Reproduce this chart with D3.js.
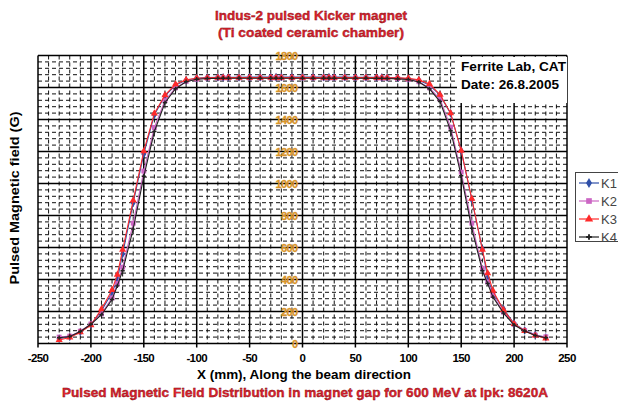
<!DOCTYPE html>
<html>
<head>
<meta charset="utf-8">
<script src="https://cdn.jsdelivr.net/npm/d3@7"></script>
<style>
  body { margin: 0; background: #fff; }
  svg { display: block; font-family: "Liberation Sans", Arial, sans-serif; }
</style>
</head>
<body>
<div id="chart"></div>
<script>
(function () {
  'use strict';

  // x positions (mm) along the beam direction
  var xMm = [-230, -220, -210, -200, -190, -180, -175, -170, -160, -150, -140, -130, -120, -110, -100,
    -90, -80, -75, -70, -60, -50, -40, -30, -25, -20, -10, 0, 10, 20, 25, 30, 40, 50, 60, 70, 75, 80,
    90, 100, 110, 120, 130, 140, 150, 160, 170, 175, 180, 190, 200, 210, 220, 230];

  // field readings (G) per kicker
  var k1 = [30, 42, 72, 118, 205, 318, 400, 560, 880, 1185, 1430, 1548, 1615, 1645, 1658,
    1662, 1663, 1663, 1664, 1664, 1665, 1665, 1665, 1665, 1666, 1666, 1666, 1666, 1665, 1665, 1665, 1665, 1664, 1664, 1663, 1663, 1662,
    1660, 1655, 1645, 1615, 1552, 1438, 1205, 900, 590, 410, 315, 215, 125, 82, 54, 38];
  var k2 = [40, 46, 77, 122, 185, 285, 375, 477, 752, 1078, 1350, 1518, 1598, 1638, 1652,
    1658, 1659, 1660, 1660, 1660, 1660, 1660, 1660, 1660, 1660, 1660, 1660, 1660, 1660, 1660, 1660, 1660, 1660, 1659, 1659, 1658, 1658,
    1656, 1650, 1636, 1598, 1528, 1352, 1071, 752, 470, 385, 300, 196, 119, 81, 52, 42];
  var k3 = [22, 38, 70, 115, 215, 335, 430, 586, 894, 1202, 1438, 1552, 1620, 1648, 1658,
    1661, 1662, 1662, 1662, 1662, 1662, 1662, 1662, 1662, 1662, 1662, 1662, 1662, 1662, 1662, 1662, 1662, 1662, 1662, 1662, 1661, 1661,
    1660, 1657, 1648, 1622, 1555, 1440, 1205, 905, 586, 440, 330, 210, 122, 78, 50, 32];
  var k4 = [36, 44, 75, 120, 180, 275, 360, 455, 715, 1045, 1325, 1505, 1592, 1636, 1652,
    1656, 1657, 1658, 1658, 1658, 1658, 1658, 1658, 1658, 1658, 1658, 1658, 1658, 1658, 1658, 1658, 1658, 1658, 1658, 1657, 1657, 1656,
    1654, 1650, 1634, 1592, 1512, 1330, 1048, 720, 455, 375, 290, 190, 115, 78, 50, 36];

  var xTicks = [-250, -200, -150, -100, -50, 0, 50, 100, 150, 200, 250];
  var yTicks = [0, 200, 400, 600, 800, 1000, 1200, 1400, 1600, 1800];

  var seriesNames = ['K1', 'K2', 'K3', 'K4'];
  var seriesValues = [k1, k2, k3, k4];
  var seriesColors = ['#2f4fa8', '#cc66c4', '#ff2a2a', '#222222'];
  var seriesSymbols = [d3.symbolDiamond, d3.symbolSquare, d3.symbolTriangle, d3.symbolCross];
  var symbolSizes = [22, 24, 22, 10];

  var width = 618, height = 403;
  var plot = { left: 38, right: 567, top: 55.5, bottom: 343.5 };

  var svg = d3.select('#chart').append('svg')
    .attr('width', width).attr('height', height);

  svg.append('rect').attr('width', width).attr('height', height).attr('fill', '#fff');

  var x = d3.scaleLinear().domain([-250, 250]).range([plot.left, plot.right]);
  var y = d3.scaleLinear().domain([0, 1800]).range([plot.bottom, plot.top]);

  var grid = svg.append('g');

  // minor dashed grid
  grid.selectAll('.minor-x').data(d3.range(-240, 250, 10).filter(function (v) { return v % 50 !== 0; }))
    .enter().append('line')
    .attr('x1', function (d) { return x(d); }).attr('x2', function (d) { return x(d); })
    .attr('y1', plot.top).attr('y2', plot.bottom)
    .attr('stroke', '#111').attr('stroke-width', 1).attr('stroke-dasharray', '4,3');
  grid.selectAll('.minor-y').data(d3.range(40, 1800, 40).filter(function (v) { return v % 200 !== 0; }))
    .enter().append('line')
    .attr('y1', function (d) { return y(d); }).attr('y2', function (d) { return y(d); })
    .attr('x1', plot.left).attr('x2', plot.right)
    .attr('stroke', '#111').attr('stroke-width', 1).attr('stroke-dasharray', '4,3');

  // major grid
  grid.selectAll('.major-x').data(xTicks)
    .enter().append('line')
    .attr('x1', function (d) { return x(d); }).attr('x2', function (d) { return x(d); })
    .attr('y1', plot.top).attr('y2', plot.bottom + 4)
    .attr('stroke', '#000').attr('stroke-width', 1.5);
  grid.selectAll('.major-y').data(yTicks)
    .enter().append('line')
    .attr('y1', function (d) { return y(d); }).attr('y2', function (d) { return y(d); })
    .attr('x1', plot.left).attr('x2', plot.right)
    .attr('stroke', '#000').attr('stroke-width', 1.5);

  // note box
  svg.append('rect').attr('x', 457).attr('y', 57).attr('width', 110).attr('height', 46).attr('fill', '#fff');
  svg.append('text').attr('x', 461).attr('y', 71).attr('font-size', 13).attr('font-weight', 'bold')
    .attr('textLength', 105).attr('lengthAdjust', 'spacingAndGlyphs').text('Ferrite Lab, CAT');
  svg.append('text').attr('x', 461).attr('y', 89).attr('font-size', 13).attr('font-weight', 'bold')
    .attr('textLength', 98).attr('lengthAdjust', 'spacingAndGlyphs').text('Date: 26.8.2005');

  // x tick labels
  svg.append('g').selectAll('text').data(xTicks).enter().append('text')
    .attr('x', function (d) { return x(d); }).attr('y', 362)
    .attr('text-anchor', 'middle').attr('font-size', 11.5).attr('font-weight', 'bold')
    .attr('letter-spacing', -0.6)
    .text(function (d) { return d; });

  // y tick labels, sitting against the x = 0 line
  svg.append('g').selectAll('text').data(yTicks).enter().append('text')
    .attr('x', x(0) - 5).attr('y', function (d) { return y(d) + 4; })
    .attr('text-anchor', 'end').attr('font-size', 11).attr('font-weight', 'bold')
    .attr('fill', '#d99428').attr('stroke', '#d99428').attr('stroke-width', 0.3)
    .attr('letter-spacing', -0.6)
    .text(function (d) { return d; });

  // series
  var line = d3.line()
    .x(function (d) { return x(d[0]); })
    .y(function (d) { return y(d[1]); });

  seriesValues.forEach(function (vals, i) {
    var pts = xMm.map(function (xv, j) { return [xv, vals[j]]; });
    var g = svg.append('g');
    g.append('path').datum(pts).attr('d', line)
      .attr('fill', 'none').attr('stroke', seriesColors[i]).attr('stroke-width', 1.1);
    g.selectAll('path.pt').data(pts).enter().append('path').attr('class', 'pt')
      .attr('transform', function (d) { return 'translate(' + x(d[0]) + ',' + y(d[1]) + ')'; })
      .attr('d', d3.symbol().type(seriesSymbols[i]).size(symbolSizes[i]))
      .attr('fill', seriesColors[i]);
  });

  // legend
  var lg = svg.append('g');
  lg.append('rect').attr('x', 575.5).attr('y', 172.5).attr('width', 50).attr('height', 69)
    .attr('fill', '#fff').attr('stroke', '#444').attr('stroke-width', 1);
  seriesNames.forEach(function (name, i) {
    var ly = 183 + i * 18;
    lg.append('line').attr('x1', 579).attr('x2', 599).attr('y1', ly).attr('y2', ly)
      .attr('stroke', seriesColors[i]).attr('stroke-width', 1.2);
    lg.append('path').attr('transform', 'translate(589,' + ly + ')')
      .attr('d', d3.symbol().type(seriesSymbols[i]).size(symbolSizes[i] + 8))
      .attr('fill', seriesColors[i]);
    lg.append('text').attr('x', 601).attr('y', ly + 5).attr('font-size', 13)
      .attr('fill', '#444').text(name);
  });

  // titles
  var red = '#e3232d';
  svg.append('text').attr('x', 311).attr('y', 20).attr('text-anchor', 'middle')
    .attr('font-size', 12.5).attr('font-weight', 'bold').attr('fill', red)
    .attr('stroke', '#7a0a10').attr('stroke-width', 0.35)
    .attr('textLength', 192).attr('lengthAdjust', 'spacingAndGlyphs')
    .text('Indus-2 pulsed Kicker magnet');
  svg.append('text').attr('x', 311).attr('y', 37).attr('text-anchor', 'middle')
    .attr('font-size', 12.5).attr('font-weight', 'bold').attr('fill', red)
    .attr('stroke', '#7a0a10').attr('stroke-width', 0.35)
    .attr('textLength', 186).attr('lengthAdjust', 'spacingAndGlyphs')
    .text('(Ti coated ceramic chamber)');

  svg.append('text').attr('x', 304).attr('y', 379).attr('text-anchor', 'middle')
    .attr('font-size', 12.5).attr('font-weight', 'bold')
    .attr('textLength', 214).attr('lengthAdjust', 'spacingAndGlyphs')
    .text('X (mm), Along the beam direction');

  svg.append('text').attr('x', 62).attr('y', 397)
    .attr('font-size', 12.5).attr('font-weight', 'bold').attr('fill', red)
    .attr('stroke', '#7a0a10').attr('stroke-width', 0.35)
    .attr('textLength', 486).attr('lengthAdjust', 'spacingAndGlyphs')
    .text('Pulsed Magnetic Field Distribution in magnet gap for 600 MeV at Ipk:  8620A');

  svg.append('text')
    .attr('transform', 'translate(19,198) rotate(-90)')
    .attr('text-anchor', 'middle').attr('font-size', 12.5).attr('font-weight', 'bold')
    .attr('textLength', 173).attr('lengthAdjust', 'spacingAndGlyphs')
    .text('Pulsed Magnetic field (G)');
})();
</script>
</body>
</html>
